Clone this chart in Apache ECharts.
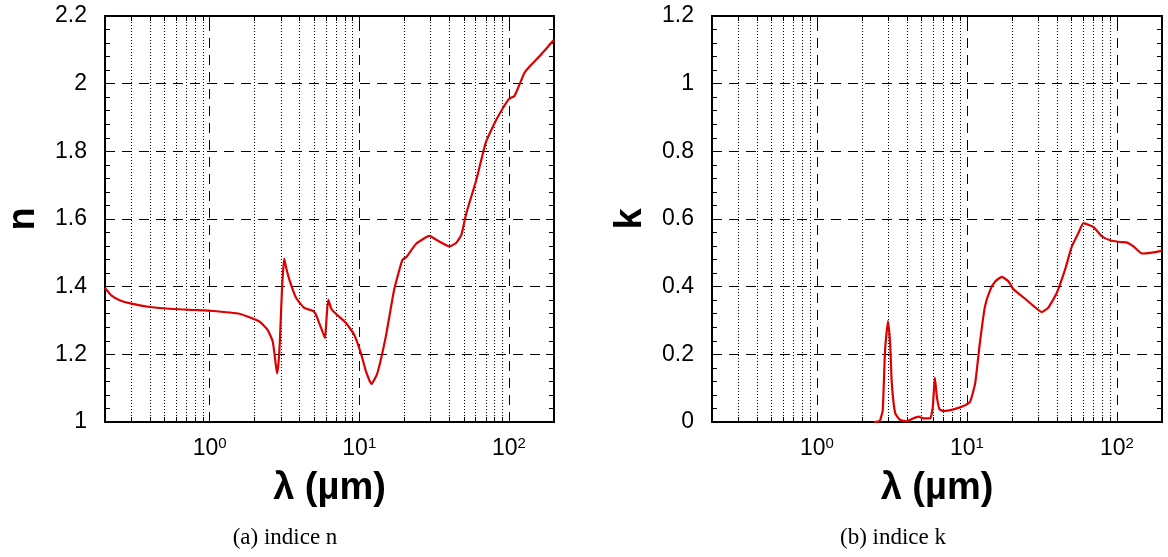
<!DOCTYPE html>
<html>
<head>
<meta charset="utf-8">
<script src="https://cdn.jsdelivr.net/npm/echarts@6/dist/echarts.min.js"></script>
<style>
  html, body { margin: 0; padding: 0; background: #fff; }
  #chart { width: 1168px; height: 557px; }
</style>
</head>
<body>
<div id="chart"></div>
<script>
// ---- data ----
const lambdaN = [0.2, 0.21, 0.22, 0.25, 0.3, 0.4, 0.57, 0.8, 1.0, 1.58, 2.15, 2.44, 2.64, 2.75, 2.82, 2.88, 2.95, 3.05, 3.15, 3.25, 3.41, 3.78, 4.29, 4.88, 5.1, 5.4, 5.7, 5.9, 6.05, 6.2, 6.5, 6.98, 8.15, 9.25, 10.26, 11.1, 12.07, 13.2, 15.05, 17.1, 19.4, 20.6, 24.0, 29.5, 32.8, 40.1, 44.5, 48.1, 51.9, 60.6, 69.9, 80.3, 91.2, 100, 109, 127, 137.5, 160, 200];
const nValues = [1.396, 1.385, 1.374, 1.360, 1.350, 1.340, 1.334, 1.331, 1.329, 1.320, 1.297, 1.2725, 1.238, 1.18, 1.144, 1.17, 1.243, 1.40, 1.483, 1.455, 1.421, 1.367, 1.337, 1.329, 1.32, 1.2925, 1.265, 1.248, 1.31, 1.362, 1.335, 1.320, 1.2925, 1.258, 1.203, 1.149, 1.112, 1.144, 1.253, 1.391, 1.479, 1.487, 1.527, 1.550, 1.538, 1.519, 1.530, 1.553, 1.617, 1.716, 1.825, 1.884, 1.928, 1.955, 1.964, 2.032, 2.051, 2.081, 2.13];

const lambdaK = [2.4, 2.55, 2.64, 2.75, 2.85, 2.98, 3.08, 3.16, 3.33, 3.59, 3.98, 4.4, 4.76, 5.13, 5.7, 5.93, 6.12, 6.31, 6.57, 7.0, 8.14, 9.49, 10.5, 11.36, 12.2, 13.2, 14.3, 15.5, 17.1, 18.9, 20.5, 23.9, 27.8, 31.6, 34.9, 39.8, 45.2, 50.1, 55.5, 59.9, 69.9, 79.4, 90.2, 105, 116, 129, 147, 167, 200];
const kValues = [0.0, 0.001, 0.005, 0.035, 0.213, 0.298, 0.232, 0.114, 0.026, 0.006, 0.002, 0.011, 0.016, 0.011, 0.011, 0.045, 0.131, 0.075, 0.0375, 0.0325, 0.0375, 0.047, 0.060, 0.114, 0.232, 0.341, 0.390, 0.416, 0.429, 0.416, 0.392, 0.368, 0.343, 0.325, 0.338, 0.382, 0.451, 0.519, 0.559, 0.588, 0.576, 0.549, 0.537, 0.532, 0.531, 0.519, 0.498, 0.500, 0.506];

const majorTicks = [1, 10, 100];
const minorTicks = [0.3, 0.4, 0.5, 0.6, 0.7, 0.8, 0.9, 2, 3, 4, 5, 6, 7, 8, 9, 20, 30, 40, 50, 60, 70, 80, 90];
const xMin = 0.2, xMax = 200;
const nAxis = { min: 1, max: 2.2, interval: 0.2 };
const kAxis = { min: 0, max: 1.2, interval: 0.2 };

// ---- helpers ----
const FONT = 'Liberation Sans';
const allTicks = majorTicks.concat(minorTicks);
function zip(xs, ys) { return xs.map((x, i) => [x, ys[i]]); }
function decadeLabel(v) {
  const e = Math.log10(v), r = Math.round(e);
  if (Math.abs(e - r) > 1e-6) return '';
  return '{b|10}{s|' + r + '}';
}
function bottomX(gridIndex) {
  return {
    type: 'log', logBase: 10, gridIndex, position: 'bottom', min: xMin, max: xMax,
    name: 'λ (µm)', nameLocation: 'middle', nameGap: 48,
    nameTextStyle: { fontFamily: FONT, fontWeight: 'bold', fontSize: 38, color: '#000' },
    axisLine: { show: true, onZero: false, lineStyle: { color: '#000', width: 2 } },
    axisTick: { show: true, inside: true, length: 5, customValues: allTicks, lineStyle: { color: '#000', width: 1 } },
    minorTick: { show: false },
    axisLabel: {
      show: true, margin: 14, customValues: majorTicks, formatter: decadeLabel,
      rich: {
        b: { fontFamily: FONT, fontSize: 23, color: '#000', lineHeight: 26 },
        s: { fontFamily: FONT, fontSize: 15, color: '#000', verticalAlign: 'top', lineHeight: 14 }
      }
    },
    splitLine: { show: false }
  };
}
function topX(gridIndex) {
  return {
    type: 'log', logBase: 10, gridIndex, position: 'top', min: xMin, max: xMax,
    axisLine: { show: true, onZero: false, lineStyle: { color: '#000', width: 2 } },
    axisTick: { show: true, inside: true, length: 5, customValues: allTicks, lineStyle: { color: '#000', width: 1 } },
    axisLabel: { show: false },
    splitLine: { show: false }
  };
}
function leftY(gridIndex, cfg, name) {
  return {
    type: 'value', gridIndex, position: 'left', min: cfg.min, max: cfg.max, interval: cfg.interval,
    name, nameLocation: 'middle', nameGap: 62, nameRotate: 90,
    nameTextStyle: { fontFamily: FONT, fontWeight: 'bold', fontSize: 38, color: '#000' },
    axisLine: { show: true, onZero: false, lineStyle: { color: '#000', width: 2 } },
    axisTick: { show: true, inside: true, length: 8, lineStyle: { color: '#000', width: 1 } },
    minorTick: { show: true, splitNumber: 5, length: 5, lineStyle: { color: '#000', width: 1 } },
    axisLabel: { show: true, margin: 18, fontFamily: FONT, fontSize: 23, color: '#000' },
    splitLine: { show: true, lineStyle: { color: '#000', width: 1, type: [10, 7] } }
  };
}
function rightY(gridIndex, cfg) {
  return {
    type: 'value', gridIndex, position: 'right', min: cfg.min, max: cfg.max, interval: cfg.interval,
    axisLine: { show: true, onZero: false, lineStyle: { color: '#000', width: 2 } },
    axisTick: { show: true, inside: true, length: 8, lineStyle: { color: '#000', width: 1 } },
    minorTick: { show: true, splitNumber: 5, length: 5, lineStyle: { color: '#000', width: 1 } },
    axisLabel: { show: false },
    splitLine: { show: false }
  };
}
function gridMarkLines() {
  return {
    silent: true, symbol: ['none', 'none'], z: 1, label: { show: false },
    emphasis: { disabled: true },
    data: majorTicks.map(v => ({ xAxis: v, lineStyle: { color: '#000', width: 1, type: [10, 7] } }))
      .concat(minorTicks.map(v => ({ xAxis: v, lineStyle: { color: '#000', width: 1, type: [1, 2] } })))
  };
}
function curve(name, xi, yi, data) {
  return {
    name, type: 'line', xAxisIndex: xi, yAxisIndex: yi, data,
    showSymbol: false, symbol: 'none', smooth: 0.15, z: 3,
    lineStyle: { color: '#dd0000', width: 2.2 },
    markLine: gridMarkLines(),
    animation: false
  };
}

const chart = echarts.init(document.getElementById('chart'), null, { renderer: 'canvas' });
chart.setOption({
  animation: false,
  backgroundColor: '#fff',
  grid: [
    { left: 105, top: 16, width: 449, height: 406 },
    { left: 712, top: 16, width: 450, height: 406 }
  ],
  xAxis: [bottomX(0), topX(0), bottomX(1), topX(1)],
  yAxis: [leftY(0, nAxis, 'n'), rightY(0, nAxis), leftY(1, kAxis, 'k'), rightY(1, kAxis)],
  series: [
    curve('n', 0, 0, zip(lambdaN, nValues)),
    curve('k', 2, 2, zip(lambdaK, kValues))
  ],
  graphic: [
    { type: 'text', x: 285, y: 538, style: { text: '(a) indice n', font: '23px "Liberation Serif"', fill: '#000', align: 'center', verticalAlign: 'middle' } },
    { type: 'text', x: 893, y: 538, style: { text: '(b) indice k', font: '23px "Liberation Serif"', fill: '#000', align: 'center', verticalAlign: 'middle' } }
  ]
});
</script>
</body>
</html>
